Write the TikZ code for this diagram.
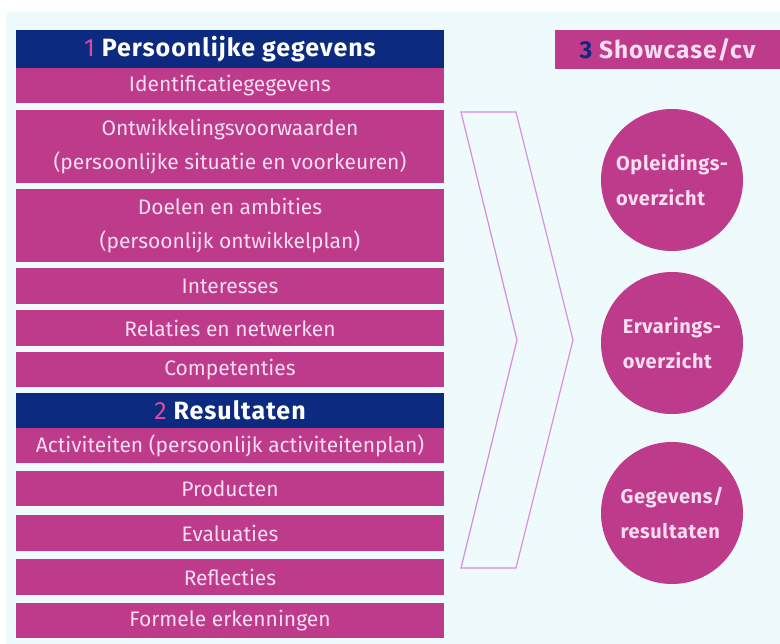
\documentclass[tikz,border=0pt]{standalone}
\usepackage{fontspec}
\setmainfont{Fira Sans}
\usetikzlibrary{positioning}
\definecolor{bgcyan}{HTML}{EEFAFC}
\definecolor{pfpink}{HTML}{BE3A8A}
\definecolor{pfnavy}{HTML}{0B2A80}
\definecolor{pflight}{HTML}{F6DDF0}
\definecolor{pfnum}{HTML}{E0489E}
\definecolor{pfline}{HTML}{D98BE0}
\tikzstyle{item}=[rectangle,fill=pfpink,text=pflight,minimum width=428pt,inner sep=0pt,align=center,font=\fontsize{21}{34}\selectfont]
\tikzstyle{head}=[item,fill=pfnavy,text=white,font=\fontsize{25}{28}\selectfont\bfseries\addfontfeatures{LetterSpace=4}]
\tikzstyle{showhead}=[rectangle,fill=pfpink,text=pflight,minimum width=225pt,minimum height=39pt,inner sep=0pt,font=\fontsize{24.5}{28}\selectfont\bfseries\addfontfeatures{LetterSpace=4}]
\tikzstyle{bubble}=[circle,fill=pfpink,text=pflight,minimum size=142pt,inner sep=0pt,align=left,font=\fontsize{20}{35}\selectfont\bfseries\addfontfeatures{LetterSpace=3}]
\tikzstyle{chevron}=[draw=pfline,line width=1.2pt,line join=miter]

\begin{document}
\begin{tikzpicture}[x=1pt,y=-1pt]
    \useasboundingbox (0,0) rectangle (780,644);
    \fill[white] (0,0) rectangle (780,644);
    \fill[bgcyan] (6,12) rectangle (780,644);
    % First the two headers of the left column
    \node[head,minimum height=38pt] (kop1) at (230,49) {\textcolor{pfnum}{\mdseries 1} Persoonlijke gegevens};
    \node[head,minimum height=35pt] (kop2) at (230,410.5) {\textcolor{pfnum}{\mdseries 2} Resultaten};
    % Then the items under them
    \foreach \y/\h/\name/\txt in {85.5/35/ident/{Identificatiegegevens},
        146.5/73/ontw/{Ontwikkelingsvoorwaarden\\(persoonlijke situatie en voorkeuren)},
        225.5/73/doel/{Doelen en ambities\\(persoonlijk ontwikkelplan)},
        286/36/inter/{Interesses}, 328/36/relat/{Relaties en netwerken},
        369.5/35/comp/{Competenties},
        445.5/35/activ/{Activiteiten (persoonlijk activiteitenplan)},
        488.5/35/prod/{Producten}, 533/36/eval/{Evaluaties},
        577/36/refl/{Reflecties}, 620.5/35/erk/{Formele erkenningen}}
        \node[item,minimum height=\h pt] (\name) at (230,\y) {\txt};
    % The big arrow in the middle
    \draw[chevron] (461,112) -- (516,112) -- (573,340) -- (516,568) -- (461,568) -- (517,340) -- cycle;
    % Right column
    \node[showhead] (kop3) at (667.5,49.5) {\textcolor{pfnavy}{3} Showcase/cv};
    \foreach \y/\name/\txt in {180/oplei/{Opleidings-\\overzicht}, 343/ervar/{Ervarings-\\overzicht},
        513/gegev/{Gegevens/\\resultaten}}
        \node[bubble] (\name) at (672,\y) {\txt};
\end{tikzpicture}
\end{document}
